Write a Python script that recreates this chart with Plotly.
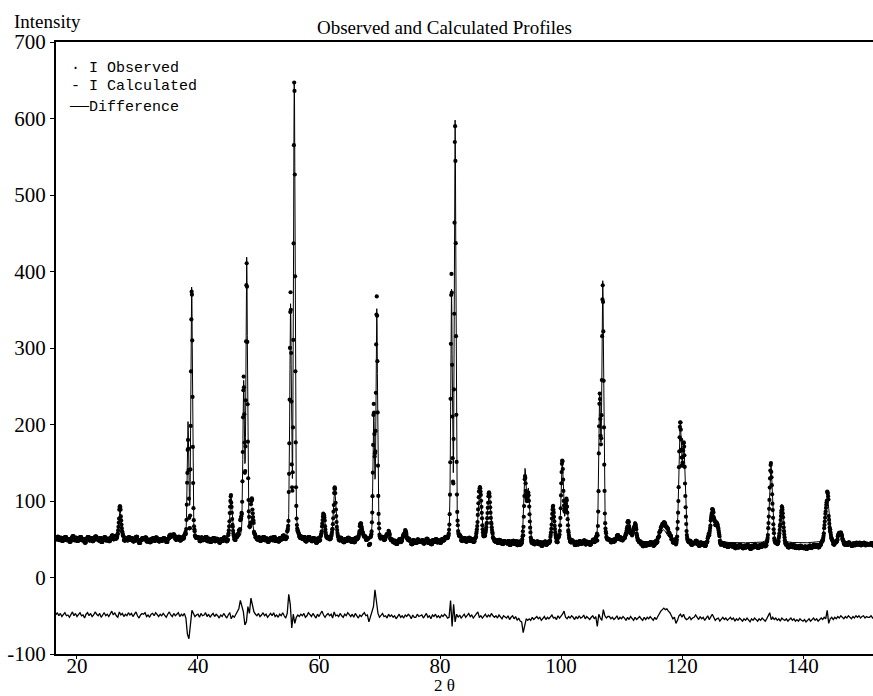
import numpy as np
import plotly.graph_objects as go

# ---------------- data ----------------
# Bragg reflections: position (2theta), height above background, FWHM (deg)
PEAK_POS = [27.1, 35.8, 38.35, 38.96, 45.45, 47.55, 48.05, 48.9, 55.3, 55.92,
            60.8, 62.6, 66.9, 69.05, 69.55, 71.4, 74.2, 81.9, 82.5, 86.6,
            88.1, 94.05, 94.6, 98.7, 100.2, 100.9, 106.4, 106.9, 109.5, 111.1,
            112.2, 116.9, 119.7, 120.3, 125.0, 125.8, 134.7, 136.5, 144.0, 146.1]
PEAK_HEIGHT = [40, 7, 150, 330, 55, 200, 365, 28, 300, 600,
               33, 65, 22, 160, 300, 12, 14, 320, 545, 72,
               62, 92, 65, 45, 105, 55, 180, 335, 8, 28,
               26, 16, 150, 120, 40, 25, 100, 50, 60, 15]
PEAK_FWHM = [0.5, 0.6, 0.3, 0.3, 0.45, 0.3, 0.3, 0.4, 0.3, 0.3,
             0.5, 0.5, 0.6, 0.3, 0.3, 0.6, 0.6, 0.3, 0.3, 0.6,
             0.6, 0.45, 0.45, 0.5, 0.45, 0.45, 0.35, 0.35, 1.5, 0.7,
             0.7, 1.5, 0.5, 0.5, 0.8, 0.7, 0.55, 0.6, 0.8, 0.8]
PV_ETA = 0.3

BG_POS = [16.5, 30.0, 50.0, 70.0, 90.0, 110.0, 130.0, 152.0]
BG_LEVEL = [49, 48, 48, 47, 47, 46, 45, 45]

# Difference curve (I obs - I calc, plotted with offset), every 0.25 deg from 16.5
DIFF_START = 16.5
DIFF_STEP = 0.25
DIFF_OFFSET = -50
DIFF_VALUES = [
    -49, -46,
    -50, -47, -51, -48,  -46, -50, -49, -52,  -48, -45, -50, -47,  -51, -48, -46, -50,   # 17-20
    -49, -53, -48, -46,  -50, -47, -51, -49,  -45, -48, -50, -47,  -52, -49, -46, -50,   # 21-24
    -48, -51, -47, -44,  -49, -46, -50, -52,  -45, -49, -47, -51,  -48, -50, -46, -49,   # 25-28
    -47, -51, -48, -45,  -50, -53, -49, -47,  -48, -46, -51, -49,  -52, -48, -47, -50,   # 29-32
    -46, -49, -51, -48,  -50, -47, -49, -52,  -48, -45, -49, -51,  -47, -50, -48, -46,   # 33-36
    -51, -48, -50, -47,  -53, -74, -80, -56,  -43, -47, -51, -49,  -48, -52, -47, -50,   # 37-40
    -49, -46, -51, -48,  -52, -49, -47, -51,  -48, -50, -53, -49,  -51, -47, -50, -53,   # 41-44
    -49, -46, -54, -50,  -52, -48, -45, -41,  -30, -40, -45, -62,  -58, -38, -47, -27,   # 45-48
    -36, -45, -48, -50,  -47, -51, -49, -46,  -50, -48, -52, -49,  -47, -50, -46, -51,   # 49-52
    -49, -52, -48, -50,  -46, -50, -53, -47,  -22, -35, -66, -48,  -60, -52, -49, -51,   # 53-56
    -48, -50, -47, -52,  -50, -46, -49, -51,  -47, -50, -53, -48,  -51, -47, -44, -49,   # 57-60
    -52, -49, -47, -50,  -48, -53, -45, -50,  -49, -51, -47, -50,  -52, -48, -50, -46,   # 61-64
    -49, -51, -48, -52,  -47, -50, -53, -49,  -51, -48, -46, -50,  -49, -58, -50, -45,   # 65-68
    -38, -16, -34, -47,  -52, -49, -47, -51,  -50, -53, -48, -51,  -49, -52, -50, -54,   # 69-72
    -51, -48, -52, -50,  -53, -49, -51, -48,  -50, -54, -49, -52,  -52, -48, -51, -50,   # 73-76
    -49, -53, -50, -47,  -52, -50, -54, -49,  -51, -48, -52, -50,  -53, -49, -51, -48,   # 77-80
    -50, -53, -52, -30,  -64, -35, -58, -48,  -52, -49, -53, -50,  -48, -52, -50, -47,   # 81-84
    -51, -49, -53, -50,  -48, -45, -52, -50,  -53, -50, -48, -52,  -49, -51, -47, -50,   # 85-88
    -52, -50, -53, -49,  -51, -54, -50, -52,  -53, -50, -55, -52,  -50, -54, -51, -56,   # 89-92
    -53, -57, -58, -72,  -60, -54, -56, -54,  -56, -52, -55, -53,  -51, -54, -52, -56,   # 93-96
    -53, -51, -55, -52,  -54, -51, -49, -53,  -52, -55, -50, -53,  -51, -48, -44, -52,   # 97-100
    -54, -51, -53, -50,  -52, -55, -51, -54,  -50, -53, -52, -49,  -54, -51, -53, -55,   # 101-104
    -52, -50, -54, -51,  -64, -48, -53, -56,  -42, -50, -53, -51,  -51, -54, -52, -55,   # 105-108
    -53, -50, -55, -52,  -54, -51, -53, -56,  -52, -55, -51, -54,  -56, -52, -55, -53,   # 109-112
    -51, -54, -56, -52,  -55, -52, -54, -51,  -53, -56, -52, -55,  -51, -47, -44, -42,   # 113-116
    -40, -42, -41, -44,  -46, -50, -54, -52,  -60, -56, -50, -48,  -52, -48, -53, -55,   # 117-120
    -54, -51, -55, -53,  -52, -49, -53, -55,  -51, -54, -52, -56,  -53, -50, -55, -52,   # 121-124
    -48, -52, -56, -54,  -53, -57, -54, -52,  -55, -53, -56, -54,  -52, -55, -53, -57,   # 125-128
    -54, -56, -53, -55,  -57, -54, -56, -53,  -55, -58, -54, -56,  -53, -55, -57, -54,   # 129-132
    -56, -53, -55, -57,  -54, -50, -46, -55,  -52, -55, -53, -56,  -54, -57, -53, -55,   # 133-136
    -56, -54, -57, -55,  -53, -56, -54, -57,  -55, -57, -54, -56,  -57, -55, -58, -56,   # 137-140
    -54, -57, -55, -53,  -56, -54, -57, -55,  -53, -55, -52, -54,  -43, -60, -54, -52,   # 141-144
    -55, -52, -54, -51,  -53, -50, -52, -54,  -51, -53, -50, -52,  -54, -51, -53, -50,   # 145-148
    -52, -50, -53, -51,  -50, -53, -51, -52,  -52, -50, -53, -51,                        # 149-151
]
FINE_PER_DIFF = 5          # observed/calculated points per difference step (0.05 deg)

X_TICKS = [20, 40, 60, 80, 100, 120, 140]
Y_TICKS = [-100, 0, 100, 200, 300, 400, 500, 600, 700]
X_RANGE = [16.53, 151.57]
Y_RANGE = [-100, 700]

# ---------------- profiles ----------------
diff_vals = np.array(DIFF_VALUES, dtype=float)
fine_step = DIFF_STEP / FINE_PER_DIFF
tt = DIFF_START + np.arange(len(diff_vals) * FINE_PER_DIFF) * fine_step

calc = np.interp(tt, BG_POS, BG_LEVEL)
for p, h, w in zip(PEAK_POS, PEAK_HEIGHT, PEAK_FWHM):
    g = np.exp(-4 * np.log(2) * ((tt - p) / w) ** 2)
    l = 1.0 / (1.0 + 4 * ((tt - p) / w) ** 2)
    calc += h * (PV_ETA * l + (1 - PV_ETA) * g)

obs = calc + np.repeat(diff_vals - DIFF_OFFSET, FINE_PER_DIFF)
diff_x = DIFF_START + np.arange(len(diff_vals)) * DIFF_STEP

fig = go.Figure()
fig.add_trace(go.Scatter(x=tt, y=calc, mode="lines", name="I Calculated",
                         line=dict(color="black", width=1)))
fig.add_trace(go.Scatter(x=tt, y=obs, mode="markers", name="I Observed",
                         marker=dict(color="black", size=4.2)))
fig.add_trace(go.Scatter(x=diff_x, y=diff_vals, mode="lines", name="Difference",
                         line=dict(color="black", width=1.3)))

SERIF = "Liberation Serif, Times New Roman, serif"
MONO = "Liberation Mono, Courier New, monospace"

fig.update_layout(
    width=873, height=696,
    margin=dict(l=56, r=0, t=42, b=42),
    paper_bgcolor="white", plot_bgcolor="white",
    showlegend=False,
    font=dict(family=SERIF, size=21, color="black"),
    xaxis=dict(range=X_RANGE, tickvals=X_TICKS, ticktext=[str(v) for v in X_TICKS],
               showgrid=False, zeroline=False, showline=True, mirror=True,
               linecolor="black", linewidth=2, ticks="outside", ticklen=3,
               ticklabelstandoff=-11,
               tickcolor="black", tickfont=dict(family=SERIF, size=21)),
    yaxis=dict(range=Y_RANGE, tickvals=Y_TICKS, ticktext=[str(v) for v in Y_TICKS],
               showgrid=False, zeroline=False, showline=True, mirror=False,
               linecolor="black", linewidth=2, ticks="outside", ticklen=4,
               tickcolor="black", tickfont=dict(family=SERIF, size=21)),
)

ann = [
    dict(text="Observed and Calculated Profiles", x=0.476, y=1.024, xref="paper", yref="paper",
         xanchor="center", yanchor="middle", showarrow=False, font=dict(family=SERIF, size=19)),
    dict(text="Intensity", x=-0.011, y=1.034, xref="paper", yref="paper",
         xanchor="center", yanchor="middle", showarrow=False, font=dict(family=SERIF, size=19)),
    dict(text="2 θ", x=0.476, y=-0.0515, xref="paper", yref="paper",
         xanchor="center", yanchor="middle", showarrow=False, font=dict(family=SERIF, size=17)),
    dict(text="· I Observed", x=0.0153, y=0.9559, xref="paper", yref="paper",
         xanchor="left", yanchor="middle", showarrow=False, font=dict(family=MONO, size=15)),
    dict(text="- I Calculated", x=0.0153, y=0.9265, xref="paper", yref="paper",
         xanchor="left", yanchor="middle", showarrow=False, font=dict(family=MONO, size=15)),
    dict(text="<span style='font-family:Liberation Serif;font-size:19px'>—</span>Difference",
         x=0.0135, y=0.8971, xref="paper", yref="paper",
         xanchor="left", yanchor="middle", showarrow=False, font=dict(family=MONO, size=15)),
]
fig.update_layout(annotations=ann)

fig.write_html("out.html", config={"displayModeBar": False},
               post_script="document.body.style.margin='0';document.body.style.padding='0';")
